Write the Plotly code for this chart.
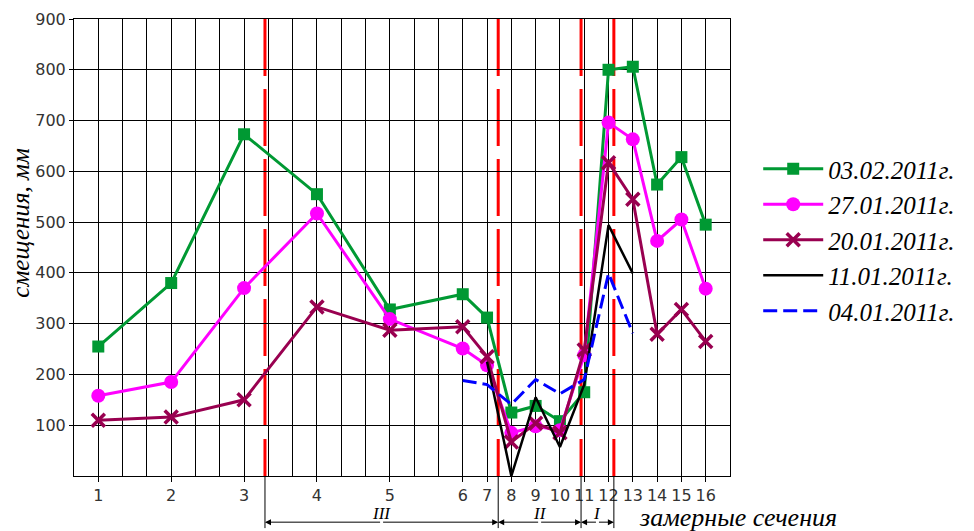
import plotly.graph_objects as go

# ---------------- data ----------------
sections = list(range(1, 17))                      # замерные сечения 1..16
tick_labels = [str(s) for s in sections]

d_0302 = [255, 380, 673, 555, 328, 358, 312, 125, 138, 108, 165, 800, 806, 574, 628, 495]
d_2701 = [158, 185, 370, 517, 309, 251, 218, 85, 98, 90, 238, 696, 663, 463, 505, 369]
d_2001 = [110, 116, 150, 333, 287, 294, 235, 67, 104, 85, 248, 617, 545, 279, 328, 265]
d_1101_sec = [7, 8, 9, 10, 11, 12, 13]
d_1101 = [225, 0, 155, 57, 180, 494, 399]
d_0401_sec = [6, 7, 8, 9, 10, 11, 12, 13]
d_0401 = [188, 180, 141, 190, 162, 190, 399, 281]

zone_names = ["III", "II", "I"]
y_ticks = [100, 200, 300, 400, 500, 600, 700, 800, 900]

# --------------- axis layout (grid cell index of each section) ---------------
section_pos = [1, 4, 7, 10, 13, 16, 17, 18, 19, 20, 21, 22, 23, 24, 25, 26]
zone_bounds = [7.86, 17.46, 20.87, 22.22]
pos = dict(zip(sections, section_pos))

def px(secs):
    return [pos[s] for s in secs]

GREEN = "#009933"
MAGENTA = "#FF00FF"
MAROON = "#990050"

fig = go.Figure()
fig.add_trace(go.Scatter(x=px(sections), y=d_0302, mode="lines+markers", name="03.02.2011г.",
                         line=dict(color=GREEN, width=3),
                         marker=dict(symbol="square", size=12, color=GREEN)))
fig.add_trace(go.Scatter(x=px(sections), y=d_2701, mode="lines+markers", name="27.01.2011г.",
                         line=dict(color=MAGENTA, width=3),
                         marker=dict(symbol="circle", size=14, color=MAGENTA)))
fig.add_trace(go.Scatter(x=px(sections), y=d_2001, mode="lines+markers", name="20.01.2011г.",
                         line=dict(color=MAROON, width=3),
                         marker=dict(symbol="x-thin", size=13, color=MAROON,
                                     line=dict(color=MAROON, width=3.5))))
fig.add_trace(go.Scatter(x=px(d_1101_sec), y=d_1101, mode="lines", name="11.01.2011г.",
                         line=dict(color="black", width=2.5)))
fig.add_trace(go.Scatter(x=px(d_0401_sec), y=d_0401, mode="lines", name="04.01.2011г.",
                         line=dict(color="#0000FF", width=3, dash="14px,6px")))

shapes = []
for b in zone_bounds:
    shapes.append(dict(type="line", xref="x", yref="paper", x0=b, x1=b, y0=1, y1=0,
                       line=dict(color="#FF0000", width=3, dash="57px,13px"), layer="between"))
    shapes.append(dict(type="line", xref="x", yref="paper", x0=b, x1=b, y0=0, y1=-0.114,
                       line=dict(color="black", width=1), layer="above"))

annotations = []
ARROW_Y = -0.101
for i, name in enumerate(zone_names):
    a, b = zone_bounds[i], zone_bounds[i + 1]
    mid = (a + b) / 2
    for end in (a, b):
        annotations.append(dict(x=end, y=ARROW_Y, xref="x", yref="paper",
                                ax=mid, ay=0, axref="x", ayref="pixel",
                                text="", showarrow=True, arrowhead=2, arrowsize=1.2,
                                arrowwidth=1, arrowcolor="black", standoff=0))
    annotations.append(dict(x=mid, y=-0.081, xref="x", yref="paper", text=name,
                            showarrow=False, yanchor="middle",
                            font=dict(family="Liberation Serif", size=17, style="italic",
                                      color="black")))
annotations.append(dict(x=1.012, y=-0.091, xref="paper", yref="paper", text="замерные сечения",
                        showarrow=False, xanchor="center", yanchor="middle",
                        font=dict(family="Liberation Serif", size=26, style="italic",
                                  color="black")))
annotations.append(dict(x=-0.081, y=0.554, xref="paper", yref="paper", text="смещения, мм",
                        showarrow=False, xanchor="center", yanchor="middle", textangle=-90,
                        font=dict(family="Liberation Serif", size=25, style="italic",
                                  color="black")))

fig.update_layout(
    width=974, height=531,
    margin=dict(l=74, r=244, t=19, b=55, autoexpand=False),
    paper_bgcolor="white", plot_bgcolor="white",
    shapes=shapes, annotations=annotations,
    xaxis=dict(range=[0, 27], tickvals=section_pos, ticktext=tick_labels,
               showgrid=True, gridcolor="black", gridwidth=1,
               minor=dict(tick0=0, dtick=1, showgrid=True, gridcolor="black", gridwidth=1, ticks=""),
               ticks="outside", ticklen=5, tickcolor="black",
               showline=True, linecolor="black", linewidth=1, mirror=True,
               zeroline=False,
               tickfont=dict(family="DejaVu Sans", size=16, color="#333333")),
    yaxis=dict(range=[0, 900], tickvals=y_ticks,
               showgrid=True, gridcolor="black", gridwidth=1,
               ticks="outside", ticklen=4, tickcolor="black",
               showline=True, linecolor="black", linewidth=1, mirror=True,
               zeroline=False,
               tickfont=dict(family="DejaVu Sans", size=16, color="#333333")),
    legend=dict(x=1.043, y=0.722, xanchor="left", yanchor="top",
                font=dict(family="Liberation Serif", size=25, style="italic", color="black"),
                bgcolor="rgba(0,0,0,0)", itemwidth=60, tracegroupgap=0),
    showlegend=True,
)

fig.write_html("out.html", config={"displayModeBar": False},
               post_script="document.body.style.margin='0';document.body.style.padding='0';")
